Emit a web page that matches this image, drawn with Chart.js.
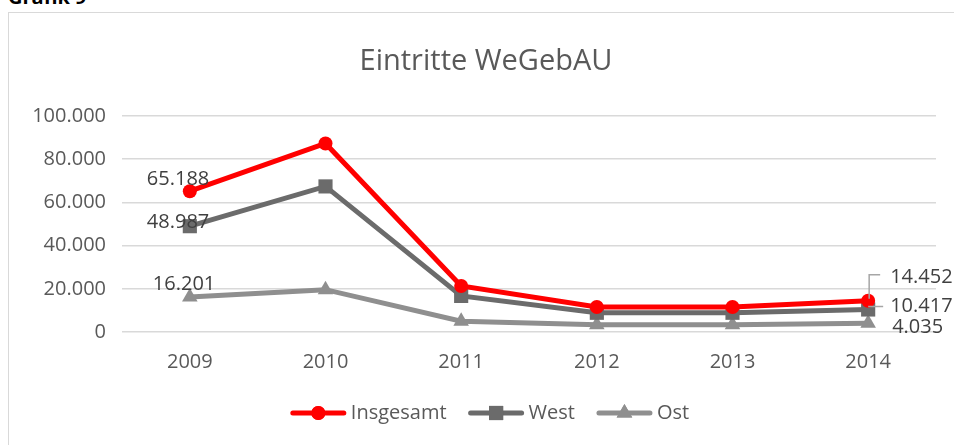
<!DOCTYPE html>
<html>
<head>
<meta charset="utf-8">
<script src="https://cdn.jsdelivr.net/npm/chart.js@4.4.0/dist/chart.umd.min.js"></script>
<style>
  html, body { margin: 0; padding: 0; background: #fff; overflow: hidden; }
  #frame { position: absolute; left: 8px; top: 12px; width: 980px; height: 460px; border: 1px solid #d9d9d9; }
  #head { position: absolute; left: 8px; top: -17px; font: bold 20px "Open Sans", sans-serif; color: #000; }
  #wrap { position: absolute; left: 0; top: 0; width: 954px; height: 445px; }
</style>
</head>
<body>
<div id="frame"></div>
<div id="head">Grafik 9</div>
<div id="wrap"><canvas id="c" width="954" height="445"></canvas></div>
<script>
// data
const years = ["2009", "2010", "2011", "2012", "2013", "2014"];
const insgesamt = [65188, 87300, 21300, 11600, 11600, 14452];
const west = [48987, 67400, 16700, 8900, 8900, 10417];
const ost = [16201, 19600, 5000, 3300, 3400, 4035];
const seriesNames = ["Insgesamt", "West", "Ost"];
const yTicks = [0, 20000, 40000, 60000, 80000, 100000];

const FONT = '"Open Sans", sans-serif';
const TEXT = "#595959";

// german thousands separator
function fmt(v) {
  return String(Math.round(v)).replace(/\B(?=(\d{3})+(?!\d))/g, ".");
}

// labels on first and last point, with optional leader line
const valueLabels = {
  id: "valueLabels",
  afterDatasetsDraw(chart) {
    const ctx = chart.ctx;
    ctx.save();
    ctx.font = "20px " + FONT;
    ctx.fillStyle = "#404040";
    ctx.textBaseline = "middle";
    chart.data.datasets.forEach((ds, i) => {
      const meta = chart.getDatasetMeta(i);
      const lab = ds.labelPos;
      const first = meta.data[0];
      const last = meta.data[meta.data.length - 1];
      ctx.textAlign = "left";
      ctx.fillText(fmt(ds.data[0]), first.x + lab.first[0], first.y + lab.first[1]);
      const lx = last.x + lab.last[0];
      const ly = last.y + lab.last[1];
      if (lab.leader) {
        ctx.strokeStyle = "#a6a6a6";
        ctx.lineWidth = 1.5;
        ctx.beginPath();
        if (lab.leader === "up") {
          ctx.moveTo(last.x + 1, last.y - 2);
          ctx.lineTo(last.x + 1, ly - 3);
          ctx.lineTo(lx - 10, ly - 3);
        } else {
          ctx.moveTo(last.x, last.y - 3);
          ctx.lineTo(lx - 7, last.y - 3);
        }
        ctx.stroke();
      }
      ctx.fillText(fmt(ds.data[ds.data.length - 1]), lx, ly);
    });
    ctx.restore();
  }
};

// title + legend drawn like the office chart
const decor = {
  id: "decor",
  afterDraw(chart) {
    const ctx = chart.ctx;
    ctx.save();
    ctx.font = "29px " + FONT;
    ctx.fillStyle = TEXT;
    ctx.textAlign = "center";
    ctx.textBaseline = "middle";
    ctx.fillText("Eintritte WeGebAU", 486, 62);

    ctx.font = "20px " + FONT;
    const lineW = 55, gap = 5, itemGap = 22;
    const items = chart.data.datasets.map(ds => ({ ds, w: ctx.measureText(ds.label).width }));
    const total = items.reduce((s, it) => s + lineW + gap + it.w, 0) + itemGap * (items.length - 1);
    let x = 490 - total / 2;
    const y = 413;
    items.forEach(it => {
      const ds = it.ds;
      ctx.strokeStyle = ds.borderColor;
      ctx.lineWidth = 5;
      ctx.lineCap = "round";
      ctx.beginPath();
      ctx.moveTo(x + 2, y);
      ctx.lineTo(x + lineW - 2, y);
      ctx.stroke();
      ctx.fillStyle = ds.borderColor;
      Chart.helpers.drawPoint(ctx, { pointStyle: ds.pointStyle, radius: ds.pointRadius, borderWidth: 0 }, x + lineW / 2, y);
      ctx.fill();
      ctx.fillStyle = TEXT;
      ctx.textAlign = "left";
      ctx.fillText(ds.label, x + lineW + gap, y);
      x += lineW + gap + it.w + itemGap;
    });
    ctx.restore();
  }
};

function series(label, data, color, style, radius, labelPos) {
  return {
    label, data,
    borderColor: color, backgroundColor: color,
    borderWidth: 5,
    pointStyle: style, pointRadius: radius, pointHoverRadius: radius,
    pointBorderWidth: 0,
    tension: 0,
    labelPos
  };
}

new Chart(document.getElementById("c"), {
  type: "line",
  data: {
    labels: years,
    datasets: [
      series(seriesNames[0], insgesamt, "#ff0000", "circle", 7, { first: [-43, -12], last: [22, -23], leader: "up" }),
      series(seriesNames[1], west, "#6b6b6b", "rect", 10, { first: [-43, -4], last: [22, -3], leader: "side" }),
      series(seriesNames[2], ost, "#8f8f8f", "triangle", 9, { first: [-37, -13], last: [24, 4] })
    ]
  },
  options: {
    responsive: false,
    animation: false,
    layout: { padding: { left: 0, right: 18, top: 116, bottom: 0 } },
    plugins: {
      legend: { display: false },
      title: { display: false },
      tooltip: { enabled: false }
    },
    scales: {
      x: {
        offset: true,
        grid: { display: false },
        border: { display: false },
        ticks: { color: TEXT, font: { family: FONT, size: 20 }, padding: 10 },
        afterFit(s) { s.height = 113; }
      },
      y: {
        min: 0, max: 100000,
        afterBuildTicks(s) { s.ticks = yTicks.map(v => ({ value: v })); },
        grid: { color: "#d9d9d9", lineWidth: 1.5, drawTicks: false },
        border: { display: false },
        ticks: { color: TEXT, font: { family: FONT, size: 20 }, padding: 16, callback: v => fmt(v) },
        afterFit(s) { s.width = 122; }
      }
    }
  },
  plugins: [valueLabels, decor]
});
</script>
</body>
</html>
